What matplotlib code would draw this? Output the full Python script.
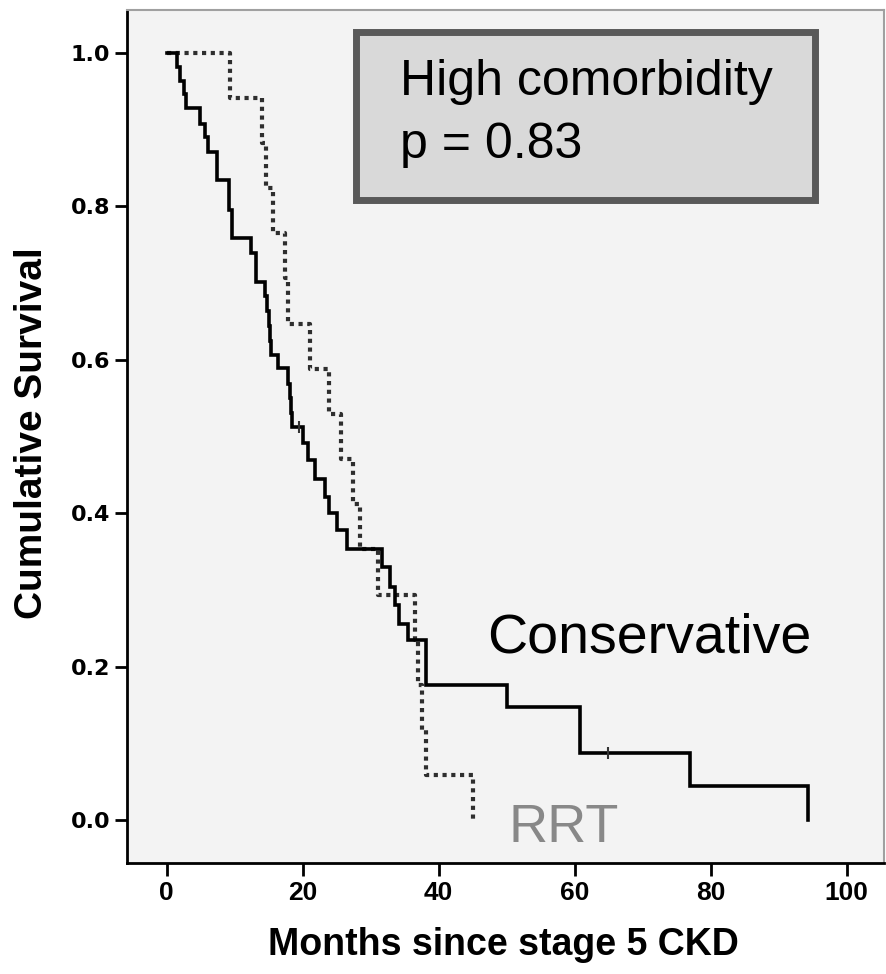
import matplotlib
matplotlib.use("Agg")
import matplotlib.pyplot as plt
from matplotlib.patches import Rectangle

# ---- data ----
cons_time = [0, 1.5, 2.0, 2.5, 2.9, 4.9, 5.6, 6.1, 7.45, 9.16, 9.56, 12.4, 13.1,
             14.5, 14.8, 15.0, 15.2, 15.4, 16.4, 17.9, 18.1, 18.25, 18.4,
             20.1, 20.8, 21.8, 23.3, 23.9, 25.0, 26.5, 31.6, 32.8, 33.6, 34.1,
             35.5, 38.2, 50.0, 60.8, 76.9, 94.3]
cons_surv = [1.0, 0.982, 0.964, 0.946, 0.928, 0.908, 0.890, 0.871, 0.834, 0.795,
             0.759, 0.739, 0.702, 0.683, 0.663, 0.644, 0.625, 0.606, 0.589,
             0.569, 0.550, 0.531, 0.513, 0.491, 0.469, 0.445, 0.421, 0.400,
             0.378, 0.353, 0.330, 0.304, 0.280, 0.256, 0.235, 0.176, 0.147,
             0.088, 0.044, 0.0]
cons_cens_time = [19.5, 64.9]
cons_cens_surv = [0.513, 0.088]

rrt_time = [0, 9.3, 14.0, 14.6, 15.7, 17.4, 17.9, 21.1, 23.8, 25.7, 27.4, 28.4,
            31.1, 36.5, 37.0, 37.5, 38.2, 45.0]
rrt_surv = [1.0, 0.941, 0.882, 0.824, 0.765, 0.706, 0.647, 0.588, 0.529, 0.471,
            0.412, 0.353, 0.294, 0.235, 0.176, 0.118, 0.059, 0.0]

x_ticks = [0, 20, 40, 60, 80, 100]
y_ticks = [0.0, 0.2, 0.4, 0.6, 0.8, 1.0]
x_label = "Months since stage 5 CKD"
y_label = "Cumulative Survival"
box_lines = ["High comorbidity", "p = 0.83"]
label_cons = "Conservative"
label_rrt = "RRT"

sans = ["Liberation Sans", "DejaVu Sans"]

fig = plt.figure(figsize=(8.86, 9.74), dpi=100)
ax = fig.add_axes([127/886, 1-863/974, (884-127)/886, (863-10)/974])
ax.set_facecolor("#f3f3f3")
ax.set_xlim(-5.84, 105.5)
ax.set_ylim(-0.056, 1.056)

# curves
ax.step(cons_time, cons_surv, where="post", color="black", lw=2.6,
        solid_joinstyle="miter", zorder=4)
ax.plot(cons_cens_time, cons_cens_surv, ls="none", marker="|", ms=9,
        mew=1.5, color="#333333", zorder=4)
ax.step(rrt_time, rrt_surv, where="post", color="#2e2e2e", lw=3.0,
        ls=(0, (1, 1.1)), zorder=3)

# annotation box
ax.add_patch(Rectangle((27.9, 0.808), 95.4-27.9, 1.027-0.808,
                       facecolor="#d9d9d9", edgecolor="#595959", lw=5,
                       zorder=5))
ax.text(34.3, 0.945, box_lines[0], fontsize=36, family=sans, va="baseline",
        ha="left", color="black", zorder=6)
ax.text(34.3, 0.863, box_lines[1], fontsize=36, family=sans, va="baseline",
        ha="left", color="black", zorder=6)

ax.text(47.1, 0.218, label_cons, fontsize=40, family=sans, va="baseline",
        ha="left", color="black", zorder=6)
ax.text(50.2, -0.029, label_rrt, fontsize=39, family=sans, va="baseline",
        ha="left", color="#888888", zorder=6)

# axes styling
for side in ["left", "bottom"]:
    ax.spines[side].set_color("black")
    ax.spines[side].set_linewidth(2)
for side in ["top", "right"]:
    ax.spines[side].set_color("#a0a0a0")
    ax.spines[side].set_linewidth(1.5)

ax.set_xticks(x_ticks)
ax.set_yticks(y_ticks)
ax.set_xticklabels([str(v) for v in x_ticks], family=sans, fontweight="bold",
                   fontsize=19)
ax.set_yticklabels([f"{v:.1f}" for v in y_ticks], family="DejaVu Sans",
                   fontweight="bold", fontsize=16)
ax.tick_params(axis="both", direction="out", length=9, width=2, color="black")
ax.tick_params(axis="x", pad=4)
ax.tick_params(axis="y", pad=3)

ax.set_xlabel(x_label, family=sans, fontweight="bold", fontsize=27)
ax.set_ylabel(y_label, family=sans, fontweight="bold", fontsize=28)
ax.xaxis.set_label_coords(0.4974, -0.096)
ax.xaxis.label.set_va("center")
ax.yaxis.set_label_coords(-0.1255, 0.5036)
ax.yaxis.label.set_va("center")

fig.savefig("out.png", dpi=100, facecolor="white")
